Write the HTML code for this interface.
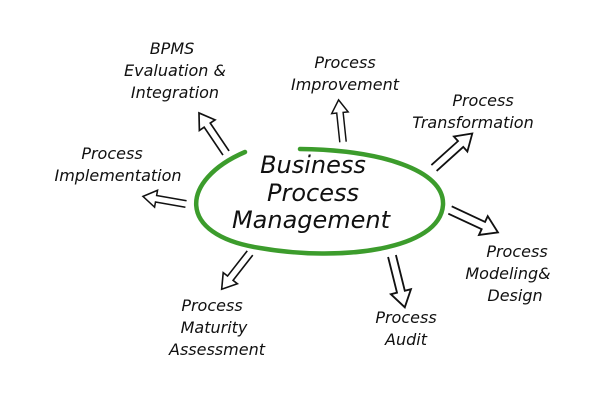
<!DOCTYPE html>
<html><head><meta charset="utf-8"><style>
html,body{margin:0;padding:0;background:#fff;}
svg{display:block}
text{font-family:"DejaVu Sans","Liberation Sans",sans-serif;font-style:oblique;fill:#111;text-anchor:middle;}
.s{font-size:16px;}
.b{font-size:24px;}
.a{fill:#fff;stroke:#111;stroke-width:1.6;stroke-linejoin:miter;}
</style></head><body>
<svg width="600" height="405" viewBox="0 0 600 405" xmlns="http://www.w3.org/2000/svg">
<defs>
<polyline id="ar" class="a" points="0,-3.5 32,-3.5 32,-9 46,0 32,9 32,3.5 0,3.5"/>
</defs>
<path d="M245,152 C180,180 175,235 260,248 C340,262 440,250 443,205 C445,170 380,150 300,149" fill="none" stroke="#3c9c2c" stroke-width="4.5" stroke-linecap="round"/>
<text class="b" x="313" y="173">Business</text>
<text class="b" x="313" y="201">Process</text>
<text class="b" x="311" y="228">Management</text>

<text class="s" x="172" y="54">BPMS</text>
<text class="s" x="175" y="76">Evaluation &amp;</text>
<text class="s" x="175" y="98">Integration</text>
<text class="s" x="345" y="68">Process</text>
<text class="s" x="345" y="90">Improvement</text>
<text class="s" x="483" y="106">Process</text>
<text class="s" x="473" y="128">Transformation</text>
<text class="s" x="112" y="159">Process</text>
<text class="s" x="118" y="181">Implementation</text>
<text class="s" x="517" y="257">Process</text>
<text class="s" x="508" y="279">Modeling&amp;</text>
<text class="s" x="515" y="301">Design</text>
<text class="s" x="406" y="323">Process</text>
<text class="s" x="406" y="345">Audit</text>
<text class="s" x="212" y="311">Process</text>
<text class="s" x="214" y="333">Maturity</text>
<text class="s" x="217" y="355">Assessment</text>

<use href="#ar" transform="translate(226,153) rotate(-124) scale(1.05)"/>
<use href="#ar" transform="translate(343,142) rotate(-96) scale(0.92)"/>
<use href="#ar" transform="translate(434,168) rotate(-42) scale(1.12)"/>
<use href="#ar" transform="translate(186,204) rotate(-170) scale(0.95)"/>
<use href="#ar" transform="translate(450,210) rotate(25) scale(1.15)"/>
<use href="#ar" transform="translate(392,256) rotate(76) scale(1.15)"/>
<use href="#ar" transform="translate(250,253) rotate(128) scale(1.0)"/>
</svg>
</body></html>
